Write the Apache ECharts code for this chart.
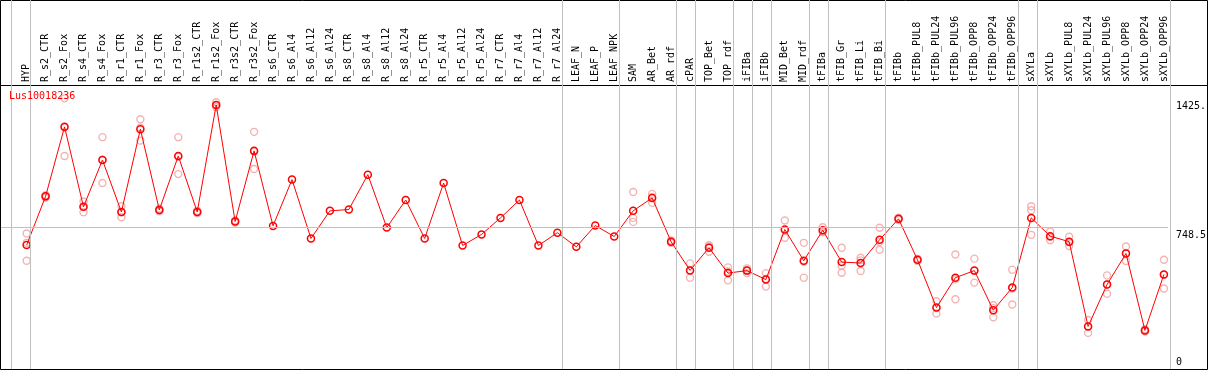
<!DOCTYPE html>
<html><head><meta charset="utf-8">
<script src="https://cdn.jsdelivr.net/npm/echarts@6/dist/echarts.min.js"></script>
<style>html,body{margin:0;padding:0;background:#fff}#c{width:1209px;height:370px}</style>
</head><body><div id="c"></div>
<script>
const categories = ["HYP","R_s2_CTR","R_s2_Fox","R_s4_CTR","R_s4_Fox","R_r1_CTR","R_r1_Fox","R_r3_CTR","R_r3_Fox","R_r1s2_CTR","R_r1s2_Fox","R_r3s2_CTR","R_r3s2_Fox","R_s6_CTR","R_s6_Al4","R_s6_Al12","R_s6_Al24","R_s8_CTR","R_s8_Al4","R_s8_Al12","R_s8_Al24","R_r5_CTR","R_r5_Al4","R_r5_Al12","R_r5_Al24","R_r7_CTR","R_r7_Al4","R_r7_Al12","R_r7_Al24","LEAF_N","LEAF_P","LEAF_NPK","SAM","AR_Bet","AR_rdf","cPAR","TOP_Bet","TOP_rdf","iFIBa","iFIBb","MID_Bet","MID_rdf","tFIBa","tFIB_Gr","tFIB_Li","tFIB_Bi","tFIBb","tFIBb_PUL8","tFIBb_PUL24","tFIBb_PUL96","tFIBb_OPP8","tFIBb_OPP24","tFIBb_OPP96","sXYLa","sXYLb","sXYLb_PUL8","sXYLb_PUL24","sXYLb_PUL96","sXYLb_OPP8","sXYLb_OPP24","sXYLb_OPP96"];
const means = [656,912,1277,857,1103,830,1265,841,1124,830,1392,780,1151,757,1000,691,836,843,1026,748,893,691,982,654,712,799,893,654,721,647,759,701,836,904,674,523,642,509,522,475,738,574,734,567,562,684,794,579,328,485,522,314,433,799,703,674,229,449,612,208,502];
const replicates = [[717,668,574],[918,912,906],[1427,1280,1124],[885,857,829],[1223,1104,982],[860,828,802],[1317,1273,1205],[848,841,834],[1223,1120,1029],[836,830,824],[1406,1390,1380],[786,780,774],[1251,1146,1056],[],[],[],[],[],[],[],[],[],[],[],[],[],[],[],[],[],[],[],[935,799,778],[925,909,878],[680,674,668],[560,524,485],[656,649,621],[539,517,471],[534,523,509],[509,478,438],[785,734,695],[668,569,485],[750,729,723],[642,548,511],[590,576,520],[747,673,632],[800,794,788],[585,579,573],[361,326,297],[607,476,372],[585,522,459],[340,325,277],[527,428,344],[860,839,710],[727,700,682],[700,671,651],[263,229,195],[497,449,401],[649,615,572],[214,208,202],[579,500,428]];
const groupEnds = [-1,0,28,31,34,35,37,38,39,41,42,45,52,53,60];
const yTickValues = [748.5, 1425];
const yTickText = {"748.5":"748.5","1425":"1425."};
const geneName = "Lus10018236";
const yMax = 1497;

const XMIN = -1.3526, XMAX = 60.2105, SEP_OFF = 0.2105;
const FONT = "DejaVu Sans Mono";
const meanData = means.map((v,i)=>[i,v]);
const repData = [];
replicates.forEach((arr,i)=>arr.forEach(v=>repData.push([i,v])));

const chart = echarts.init(document.getElementById('c'), null, {renderer:'canvas'});
chart.setOption({
  animation:false,
  backgroundColor:'#fff',
  title:{text:geneName,left:9,top:91,padding:0,textStyle:{color:'#ff0000',fontSize:10,fontWeight:'normal',fontFamily:FONT}},
  grid:[
    {left:0.5,right:1.5,top:0.5,height:85,show:true,borderColor:'#000',borderWidth:1,backgroundColor:'transparent'},
    {left:0.5,right:1.5,top:85.5,bottom:0.5,show:true,borderColor:'#000',borderWidth:1,backgroundColor:'transparent'},
    {left:1,right:38.3,top:0,bottom:1},
    {left:1,right:38.3,top:85,bottom:-1}
  ],
  xAxis:[
    {gridIndex:0,type:'value',show:false},
    {gridIndex:1,type:'value',show:false},
    {gridIndex:2,type:'value',min:XMIN,max:XMAX,show:false},
    {gridIndex:3,type:'value',min:XMIN,max:XMAX,position:'top',
      axisLine:{show:false},axisTick:{show:false},splitLine:{show:false},
      axisLabel:{customValues:categories.map((c,i)=>i),rotate:90,margin:3,color:'#000',fontSize:10,fontFamily:FONT,
        formatter:(v)=>categories[Math.round(v)]}}
  ],
  yAxis:[
    {gridIndex:0,type:'value',show:false},
    {gridIndex:1,type:'value',show:false},
    {gridIndex:2,type:'value',min:0,max:1,show:false},
    {gridIndex:3,type:'value',min:0,max:yMax,position:'right',
      axisLine:{show:false},axisTick:{show:false},splitLine:{show:false},
      axisLabel:{customValues:yTickValues,margin:8,color:'#000',fontSize:10,fontFamily:FONT,verticalAlign:'top',padding:[3,0,0,0],
        formatter:(v)=>yTickText[String(v)]||String(v)}},
    {gridIndex:3,type:'value',min:0,max:yMax,position:'right',
      axisLine:{show:false},axisTick:{show:false},splitLine:{show:false},
      axisLabel:{customValues:[0],margin:8,color:'#000',fontSize:10,fontFamily:FONT,verticalAlign:'bottom',padding:[0,0,3,0],
        formatter:(v)=>String(v)}}
  ],
  series:[
    {type:'scatter',xAxisIndex:2,yAxisIndex:2,data:[],silent:true,
      markLine:{silent:true,symbol:['none','none'],label:{show:false},
        lineStyle:{color:'#c0c0c0',width:1,type:'solid'},
        data:groupEnds.map(g=>({xAxis:g+SEP_OFF}))}},
    {type:'scatter',xAxisIndex:3,yAxisIndex:3,data:repData,symbol:'circle',symbolSize:7,z:2,
      itemStyle:{color:'rgba(0,0,0,0)',borderColor:'#f0a0a0',borderWidth:1.4},
      markLine:{silent:true,symbol:['none','none'],label:{show:false},
        lineStyle:{color:'#c0c0c0',width:1,type:'solid'},data:[{yAxis:748.5}]}},
    {type:'line',xAxisIndex:3,yAxisIndex:3,data:meanData,symbol:'circle',symbolSize:7,z:3,
      lineStyle:{color:'#ff0000',width:1},
      itemStyle:{color:'rgba(0,0,0,0)',borderColor:'#ff0000',borderWidth:1.5}}
  ]
});
</script></body></html>
